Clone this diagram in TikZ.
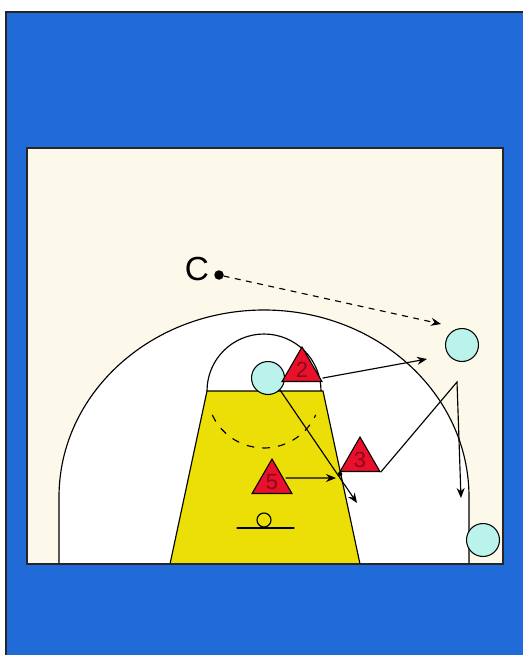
\documentclass[tikz,border=0pt]{standalone}
\usepackage{fontspec}
\setsansfont{Liberation Sans}
\usetikzlibrary{arrows.meta,shapes.geometric}
\definecolor{floorblue}{HTML}{216BD9}
\definecolor{courtcream}{HTML}{FDF9EA}
\definecolor{lanegold}{HTML}{ECDF08}
\definecolor{defred}{HTML}{E8102A}
\definecolor{numred}{HTML}{8B0A1A}
\definecolor{attcyan}{HTML}{B9F3EC}

\begin{document}
\begin{tikzpicture}[x=0.02cm,y=-0.02cm,>={Stealth[length=2mm,width=1.6mm]},line cap=round,
  offense/.style={circle,draw,line width=0.6pt,fill=attcyan,minimum size=0.66cm,inner sep=0},
  defense/.style={regular polygon,regular polygon sides=3,draw,line width=0.6pt,fill=defred,
    minimum size=0.92cm,inner sep=0,text=numred,font=\sffamily\fontsize{12.5}{12.5}\selectfont},
  pathline/.style={line width=0.65pt}]
\useasboundingbox (0,0) rectangle (523,655);
\clip (0,0) rectangle (523,655);
% floor and court
\draw[fill=floorblue,draw=black!85,line width=1.2pt] (6,12) rectangle (560,700);
\fill[courtcream] (27,148) rectangle (503,564);
\draw[pathline,fill=white] (59,564) -- (59,497) arc[start angle=180,end angle=360,x radius=205,y radius=187] -- (469,564);
\draw[pathline] (207,391) arc[start angle=180,end angle=360,radius=57];
\draw[pathline,fill=lanegold] (207,391) -- (170,564) -- (360,564) -- (323,391) -- cycle;
\draw[pathline,dash pattern=on 4pt off 5pt] (264,391) ++(155:57) arc[start angle=155,end angle=25,radius=57];
\draw[pathline] (264,520) circle (7);
\draw[pathline] (237,528) -- (294,528);
\draw[draw=black!85,line width=1.2pt] (27,148) rectangle (503,564);
% players
\node[font=\sffamily\fontsize{19}{19}\selectfont] (coach) at (197,269) {C};
\node[circle,fill,inner sep=0,minimum size=0.19cm] (ball) at (219,275) {};
\node[offense] (o1) at (462,345) {};
\node[offense] (o2) at (268,378) {};
\node[offense] (o3) at (483,540) {};
\node[defense] (d2) at (302,370) {2};
\node[defense] (d3) at (360,460) {3};
\node[defense] (d5) at (272,482) {5};
% movements
\coordinate (pass1) at (441,324);
\coordinate (cut2) at (427,359);
\coordinate (cut5) at (336,478);
\coordinate (drive) at (357,503);
\coordinate (turn3) at (457,382);
\coordinate (stop3) at (461,498);
\draw[->,pathline,dash pattern=on 3pt off 3.5pt] (ball) -- (pass1);
\draw[->,pathline] (d2.corner 3) ++(0,-4) -- (cut2);
\draw[->,pathline] (o2.south east) -- (drive);
\draw[->,pathline] (d5.east) ++(0,-4) -- (cut5);
\draw[->,pathline] (d3.corner 3) -- (turn3) -- (stop3);
\node[circle,fill,inner sep=0,minimum size=0.09cm] (meet) at (340,474) {};
\end{tikzpicture}
\end{document}
